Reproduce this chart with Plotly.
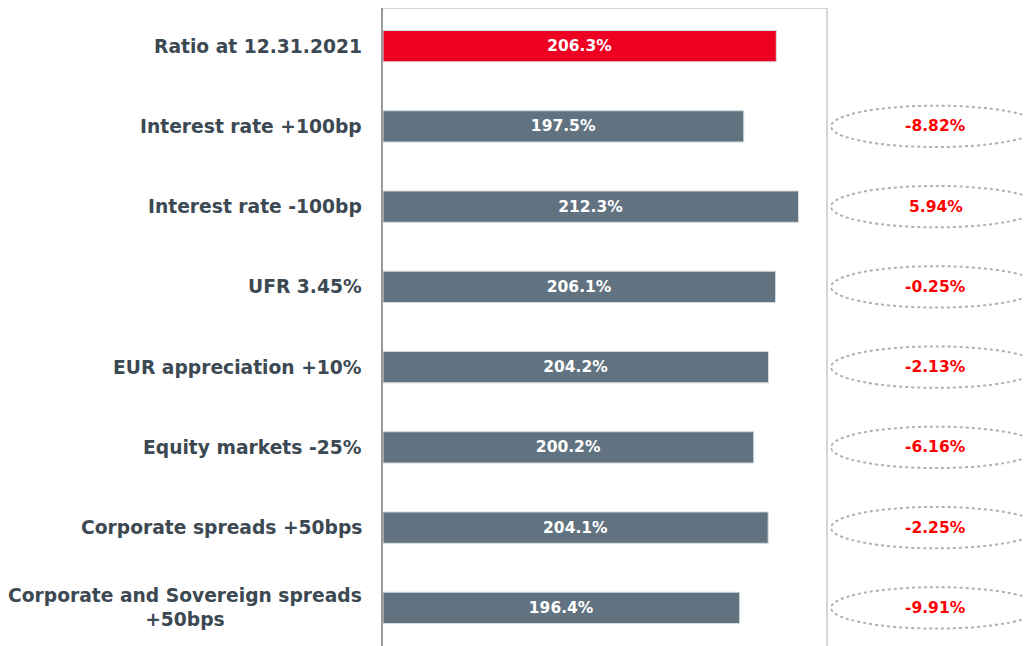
import plotly.graph_objects as go

categories = ["Ratio at 12.31.2021", "Interest rate +100bp", "Interest rate -100bp",
              "UFR 3.45%", "EUR appreciation +10%", "Equity markets -25%",
              "Corporate spreads +50bps", "Corporate and Sovereign spreads<br>+50bps"]
ratios = [206.3, 197.5, 212.3, 206.1, 204.2, 200.2, 204.1, 196.4]
deltas = [None, "-8.82%", "5.94%", "-0.25%", "-2.13%", "-6.16%", "-2.25%", "-9.91%"]

AXIS_BASE = 100
RED = "#EE0022"
GREY = "#617380"
LABEL = "#3c4852"

idx = list(range(len(categories)))
colors = [RED] + [GREY] * (len(categories) - 1)

fig = go.Figure()
fig.add_trace(go.Bar(
    y=idx, x=[r - AXIS_BASE for r in ratios], base=AXIS_BASE, orientation="h",
    width=0.39, marker=dict(color=colors, line=dict(color="#d5dadd", width=1)),
    customdata=ratios, texttemplate="%{customdata:.1f}%",
    textposition="inside", insidetextanchor="middle",
    textfont=dict(family="DejaVu Sans", size=15.5, color="white", weight="bold"),
    hoverinfo="skip",
))

annotations = []
for i, c in enumerate(categories):
    annotations.append(dict(
        x=0, xref="paper", y=i, yref="y", text=c, showarrow=False,
        xanchor="right", yanchor="middle", align="center", xshift=-19,
        font=dict(family="DejaVu Sans", size=18.7, color=LABEL, weight="bold"),
    ))

shapes = [
    dict(type="line", xref="paper", yref="paper", x0=0, x1=1, y0=1, y1=1,
         line=dict(color="#c8c8c8", width=1.5)),
    dict(type="line", xref="paper", yref="paper", x0=1, x1=1, y0=0, y1=1,
         line=dict(color="#c8c8c8", width=1.5)),
]
for i, d in enumerate(deltas):
    if d is None:
        continue
    shapes.append(dict(type="circle", xref="paper", yref="y",
                       x0=1.009, x1=1.482, y0=i - 0.258, y1=i + 0.258,
                       line=dict(color="#b0b0b0", width=2, dash="dot")))
    annotations.append(dict(
        x=1.245, xref="paper", y=i, yref="y", text=d, showarrow=False,
        xanchor="center", yanchor="middle",
        font=dict(family="DejaVu Sans", size=15.5, color="#FF0000", weight="bold"),
    ))

fig.update_layout(
    width=1031, height=640,
    margin=dict(l=375, r=212, t=0, b=0),
    paper_bgcolor="white", plot_bgcolor="white",
    showlegend=False,
    xaxis=dict(range=[100, 220], showgrid=False, zeroline=False,
               showticklabels=False, ticks=""),
    yaxis=dict(range=[7.5, -0.475], showgrid=False, zeroline=False,
               showticklabels=False, ticks="", showline=True,
               linecolor="#9a9a9a", linewidth=2),
    shapes=shapes, annotations=annotations,
)

fig.write_html("out.html")
